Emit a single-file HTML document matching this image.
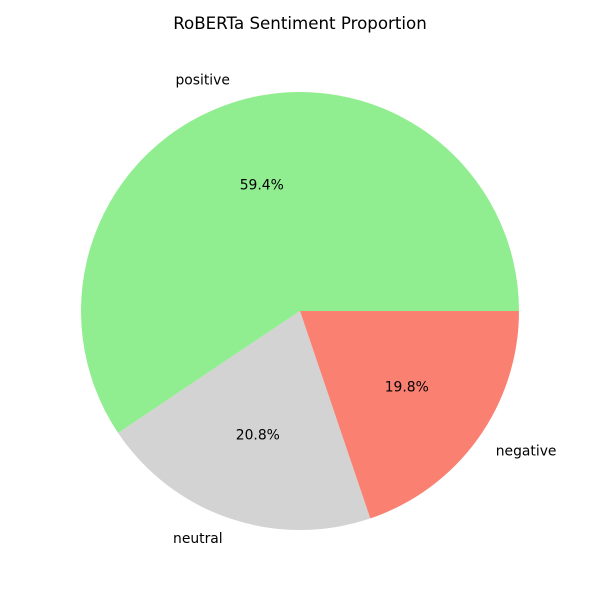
<!DOCTYPE html>
<html><head><meta charset="utf-8"><style>
body{margin:0;background:#fff}
svg{display:block;font-family:"DejaVu Sans","Liberation Sans",sans-serif}
</style></head><body>
<svg id="chart" width="600" height="600" viewBox="0 0 600 600">
<rect width="600" height="600" fill="#fff"/>
<text x="300" y="29" text-anchor="middle" font-size="16.67">RoBERTa Sentiment Proportion</text>
<g id="slices"></g>
</svg>
<script>
const categories = ["positive", "neutral", "negative"];
const values = [59.4, 20.8, 19.8];
const colors = ["#90ee90", "#d3d3d3", "#fa8072"];
const pctLabels = ["59.4%", "20.8%", "19.8%"];

const cx = 300, cy = 311, R = 219;
const g = document.getElementById('slices');
const ns = 'http://www.w3.org/2000/svg';
const total = values.reduce((a, b) => a + b, 0);
let start = 0;
function pt(a, r) { return [cx + r * Math.cos(a), cy - r * Math.sin(a)]; }
values.forEach((v, i) => {
  const sweep = v / total * 2 * Math.PI;
  const end = start + sweep;
  const [x1, y1] = pt(start, R), [x2, y2] = pt(end, R);
  const p = document.createElementNS(ns, 'path');
  p.setAttribute('d', `M${cx},${cy} L${x1},${y1} A${R},${R} 0 ${sweep > Math.PI ? 1 : 0} 0 ${x2},${y2} Z`);
  p.setAttribute('fill', colors[i]);
  
  
  g.appendChild(p);
  const mid = (start + end) / 2;
  const [lx, ly] = pt(mid, R * 1.1);
  const t = document.createElementNS(ns, 'text');
  t.setAttribute('x', lx); t.setAttribute('y', ly + 4);
  t.setAttribute('font-size', '13.89');
  t.setAttribute('text-anchor', Math.cos(mid) < 0 ? 'end' : 'start');
  t.textContent = categories[i];
  
  
  g.appendChild(t);
  const [px, py] = pt(mid, R * 0.6);
  const q = document.createElementNS(ns, 'text');
  q.setAttribute('x', px); q.setAttribute('y', py + 4);
  q.setAttribute('font-size', '13.89');
  q.setAttribute('text-anchor', 'middle');
  q.textContent = pctLabels[i];
  
  
  g.appendChild(q);
  start = end;
});
</script>
</body></html>
